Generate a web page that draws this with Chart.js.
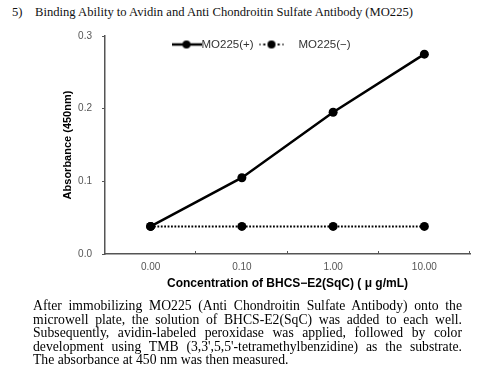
<!DOCTYPE html>
<html>
<head>
<meta charset="utf-8">
<script src="https://cdn.jsdelivr.net/npm/chart.js@4/dist/chart.umd.min.js"></script>
<style>
  html, body { margin: 0; padding: 0; background: #fff; }
  #page { position: relative; width: 500px; height: 377px; overflow: hidden; }
  #title { position: absolute; left: 12px; top: 5px; font: 12.6px "Liberation Serif", serif; color: #111; white-space: nowrap; }
  #title .num { display: inline-block; width: 23px; }
  #wrap { position: absolute; left: 0; top: 20px; width: 500px; height: 280px; }
  #note { position: absolute; left: 33px; top: 299px; width: 429px; font: 13.7px "Liberation Serif", serif; line-height: 13.6px; color: #000; }
  #note div { white-space: nowrap; text-align: justify; text-align-last: justify; }
  #note div.last { text-align-last: left; }
</style>
</head>
<body>
<div id="page">
  <div id="title"><span class="num">5)</span>Binding Ability to Avidin and Anti Chondroitin Sulfate Antibody (MO225)</div>
  <div id="wrap"><canvas id="chart"></canvas></div>
  <div id="note">
    <div>After immobilizing MO225 (Anti Chondroitin Sulfate Antibody) onto the</div>
    <div>microwell plate, the solution of BHCS-E2(SqC) was added to each well.</div>
    <div>Subsequently, avidin-labeled peroxidase was applied, followed by color</div>
    <div>development using TMB (3,3',5,5'-tetramethylbenzidine) as the substrate.</div>
    <div class="last">The absorbance at 450 nm was then measured.</div>
  </div>
</div>
<script>
// data
const concentrations = ["0.00", "0.10", "1.00", "10.00"];
const mo225Plus = [0.038, 0.105, 0.195, 0.275];
const mo225Minus = [0.038, 0.038, 0.038, 0.038];
const yTicks = [0, 0.1, 0.2, 0.3];

// little line+dot pictures for the legend
function legendIcon(dotted) {
  const c = document.createElement("canvas");
  c.width = 30; c.height = 12;
  const g = c.getContext("2d");
  g.strokeStyle = "#000";
  g.lineWidth = dotted ? 2.2 : 2.5;
  if (dotted) { g.setLineDash([2, 2.8]); g.lineDashOffset = 1; }
  g.beginPath(); g.moveTo(dotted ? 3 : 0, 6); g.lineTo(dotted ? 27 : 30, 6); g.stroke();
  g.fillStyle = "#000";
  g.beginPath(); g.arc(15, 6, 4, 0, Math.PI * 2); g.fill();
  return c;
}
const icons = [legendIcon(false), legendIcon(true)];

// legend sits inside the plot, near the top
const topLegend = {
  id: "topLegend",
  afterDraw(chart) {
    const ctx = chart.ctx, area = chart.chartArea;
    const mid = (area.left + area.right) / 2;
    const y = area.top + 8.5;
    const items = [
      { icon: icons[0], iconX: mid - 101, textX: mid - 86 },
      { icon: icons[1], iconX: mid - 16, textX: mid + 11 }
    ];
    ctx.save();
    ctx.font = "11.5px 'Liberation Sans', Arial, sans-serif";
    ctx.fillStyle = "#333";
    ctx.textBaseline = "middle";
    chart.data.datasets.forEach((ds, i) => {
      const it = items[i];
      ctx.drawImage(it.icon, it.iconX - 15, y - 6);
      ctx.fillText(ds.label, it.textX, y + 0.5);
    });
    ctx.restore();
  }
};

// short upward ticks on the x axis between the categories
const innerTicks = {
  id: "innerTicks",
  afterDraw(chart) {
    const x = chart.scales.x, ctx = chart.ctx;
    const bottom = chart.chartArea.bottom;
    ctx.save();
    ctx.strokeStyle = "#555";
    ctx.lineWidth = 1;
    for (let i = 1; i <= concentrations.length; i++) {
      const px = Math.round(x.left + (x.right - x.left) * i / concentrations.length) - 0.5;
      ctx.beginPath(); ctx.moveTo(px, bottom); ctx.lineTo(px, bottom - 3); ctx.stroke();
    }
    ctx.restore();
  }
};

new Chart(document.getElementById("chart").getContext("2d"), {
  type: "line",
  data: {
    labels: concentrations,
    datasets: [
      {
        label: "MO225(+)",
        data: mo225Plus,
        borderColor: "#000",
        backgroundColor: "#000",
        borderWidth: 2.5,
        pointRadius: 4.5,
        pointBackgroundColor: "#000",
        pointBorderWidth: 0
      },
      {
        label: "MO225(\u2212)",
        data: mo225Minus,
        borderColor: "#000",
        backgroundColor: "#000",
        borderWidth: 2,
        borderDash: [1.8, 1.6],
        pointRadius: 4.5,
        pointBackgroundColor: "#000",
        pointBorderWidth: 0
      }
    ]
  },
  options: {
    responsive: true,
    maintainAspectRatio: false,
    animation: false,
    layout: { padding: { left: 55, right: 30, top: 15, bottom: 0 } },
    plugins: {
      tooltip: { enabled: false },
      legend: { display: false }
    },
    scales: {
      x: {
        offset: true,
        grid: { display: false, drawTicks: false },
        border: { color: "#555", width: 1.5 },
        ticks: {
          color: "#555",
          padding: 7,
          font: { family: "'Liberation Sans', Arial, sans-serif", size: 10 }
        },
        title: {
          display: true,
          text: "Concentration of BHCS\u2212E2(SqC) ( \u03bc g/mL)",
          color: "#000",
          padding: { top: 0, bottom: 9 },
          font: { family: "'Liberation Sans', Arial, sans-serif", size: 12, weight: "bold" }
        },
        afterFit(scale) { scale.height = 46; }
      },
      y: {
        min: 0,
        max: 0.3,
        afterBuildTicks(scale) { scale.ticks = yTicks.map(v => ({ value: v })); },
        grid: { drawOnChartArea: false, tickLength: 3, color: "#555", lineWidth: 1 },
        border: { color: "#555", width: 1.5 },
        ticks: {
          color: "#555",
          padding: 10,
          font: { family: "'Liberation Sans', Arial, sans-serif", size: 10 },
          callback: v => Number(v).toFixed(1)
        },
        title: {
          display: true,
          text: "Absorbance (450nm)",
          color: "#000",
          padding: { top: 6, bottom: 0 },
          font: { family: "'Liberation Sans', Arial, sans-serif", size: 11, weight: "bold" }
        },
        afterFit(scale) { scale.width = 50; }
      }
    }
  },
  plugins: [innerTicks, topLegend]
});
</script>
</body>
</html>
